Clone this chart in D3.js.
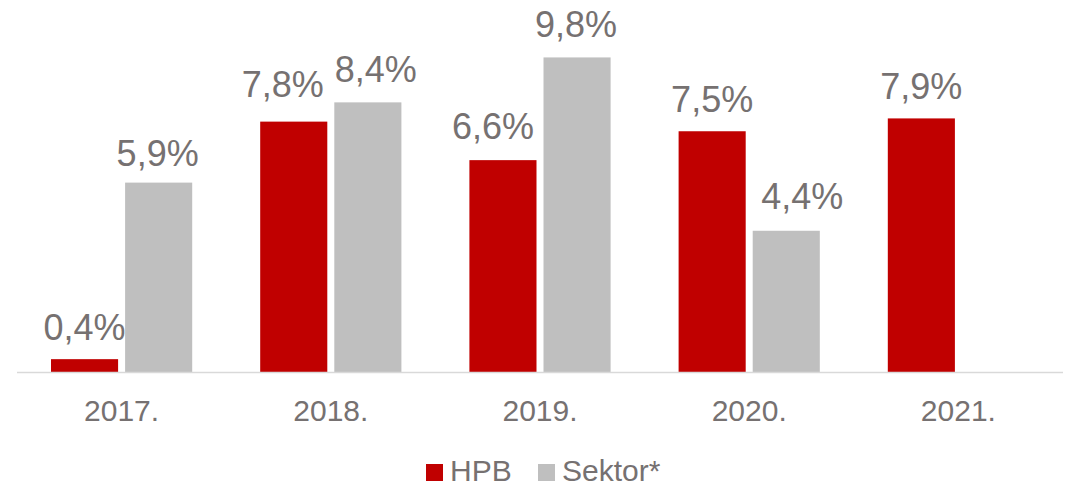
<!DOCTYPE html>
<html>
<head>
<meta charset="utf-8">
<script src="https://cdn.jsdelivr.net/npm/d3@7"></script>
<style>
  html, body { margin: 0; padding: 0; background: #ffffff; }
  svg { display: block; font-family: "Liberation Sans", Arial, sans-serif; }
</style>
</head>
<body>
<svg id="chart" width="1068" height="486"></svg>
<script>
// Years on the category axis
const years = ["2017.", "2018.", "2019.", "2020.", "2021."];
// Series names and their values (percent); null = no value reported
const seriesNames = ["HPB", "Sektor*"];
const hpbValues = [0.4, 7.8, 6.6, 7.5, 7.9];
const sektorValues = [5.9, 8.4, 9.8, 4.4, null];
const seriesColors = ["#C00000", "#BFBFBF"];

// Hand-placed value labels: offsets (px) from the default spot above each bar
const labelShift = {
  "HPB":     { dx: [0, -11, -10, 0, 0], dy: [0, -6, -2, 0, 0] },
  "Sektor*": { dx: [-1, 8, -1, 16, 0], dy: [2, -1, -1, -3, 0] }
};

const svg = d3.select("#chart");
const textColor = "#767171";
const baseY = 372;
const fmt = v => d3.format(".1f")(v).replace(".", ",") + "%";

const x0 = d3.scaleBand().domain(years).range([17, 1063]).padding(0);
const x1 = d3.scaleBand().domain(seriesNames)
  .range([34, x0.bandwidth() - 34]).paddingInner(7 / 74).paddingOuter(0);
const y = d3.scaleLinear().domain([0, 10]).range([baseY, baseY - 321]);

const rows = years.map((yr, i) => ({
  year: yr,
  values: [
    { series: seriesNames[0], value: hpbValues[i], color: seriesColors[0], i },
    { series: seriesNames[1], value: sektorValues[i], color: seriesColors[1], i }
  ].filter(d => d.value !== null)
}));

const groups = svg.append("g").selectAll("g")
  .data(rows).join("g")
  .attr("transform", d => `translate(${x0(d.year)},0)`);

groups.selectAll("rect")
  .data(d => d.values).join("rect")
  .attr("x", d => x1(d.series))
  .attr("width", x1.bandwidth())
  .attr("y", d => y(d.value))
  .attr("height", d => y(0) - y(d.value))
  .attr("fill", d => d.color);

groups.selectAll("text.val")
  .data(d => d.values).join("text")
  .attr("class", "val")
  .attr("x", d => x1(d.series) + x1.bandwidth() / 2 + labelShift[d.series].dx[d.i])
  .attr("y", d => y(d.value) - 19 + labelShift[d.series].dy[d.i])
  .attr("text-anchor", "middle")
  .attr("font-size", 36)
  .attr("fill", textColor)
  .text(d => fmt(d.value));

// Category axis
const xAxis = svg.append("g")
  .attr("transform", `translate(0,${baseY})`)
  .call(d3.axisBottom(x0).tickSize(0).tickPadding(0));
xAxis.select(".domain").attr("stroke", "#D9D9D9").attr("stroke-width", 1.5)
  .attr("d", `M17,0.5H1063`);
xAxis.selectAll("text")
  .attr("dy", null)
  .attr("y", 49)
  .attr("font-size", 30)
  .attr("font-family", "Liberation Sans, Arial, sans-serif")
  .attr("fill", textColor);

// Legend
const legend = svg.append("g").attr("transform", "translate(426,0)");
const legendOffsets = [0, 112];
seriesNames.forEach((name, i) => {
  const g = legend.append("g").attr("transform", `translate(${legendOffsets[i]},0)`);
  g.append("rect").attr("x", 0).attr("y", 464).attr("width", 17).attr("height", 17)
    .attr("fill", seriesColors[i]);
  g.append("text").attr("x", 24).attr("y", 481)
    .attr("font-size", 30).attr("fill", textColor).text(name);
});
</script>
</body>
</html>
